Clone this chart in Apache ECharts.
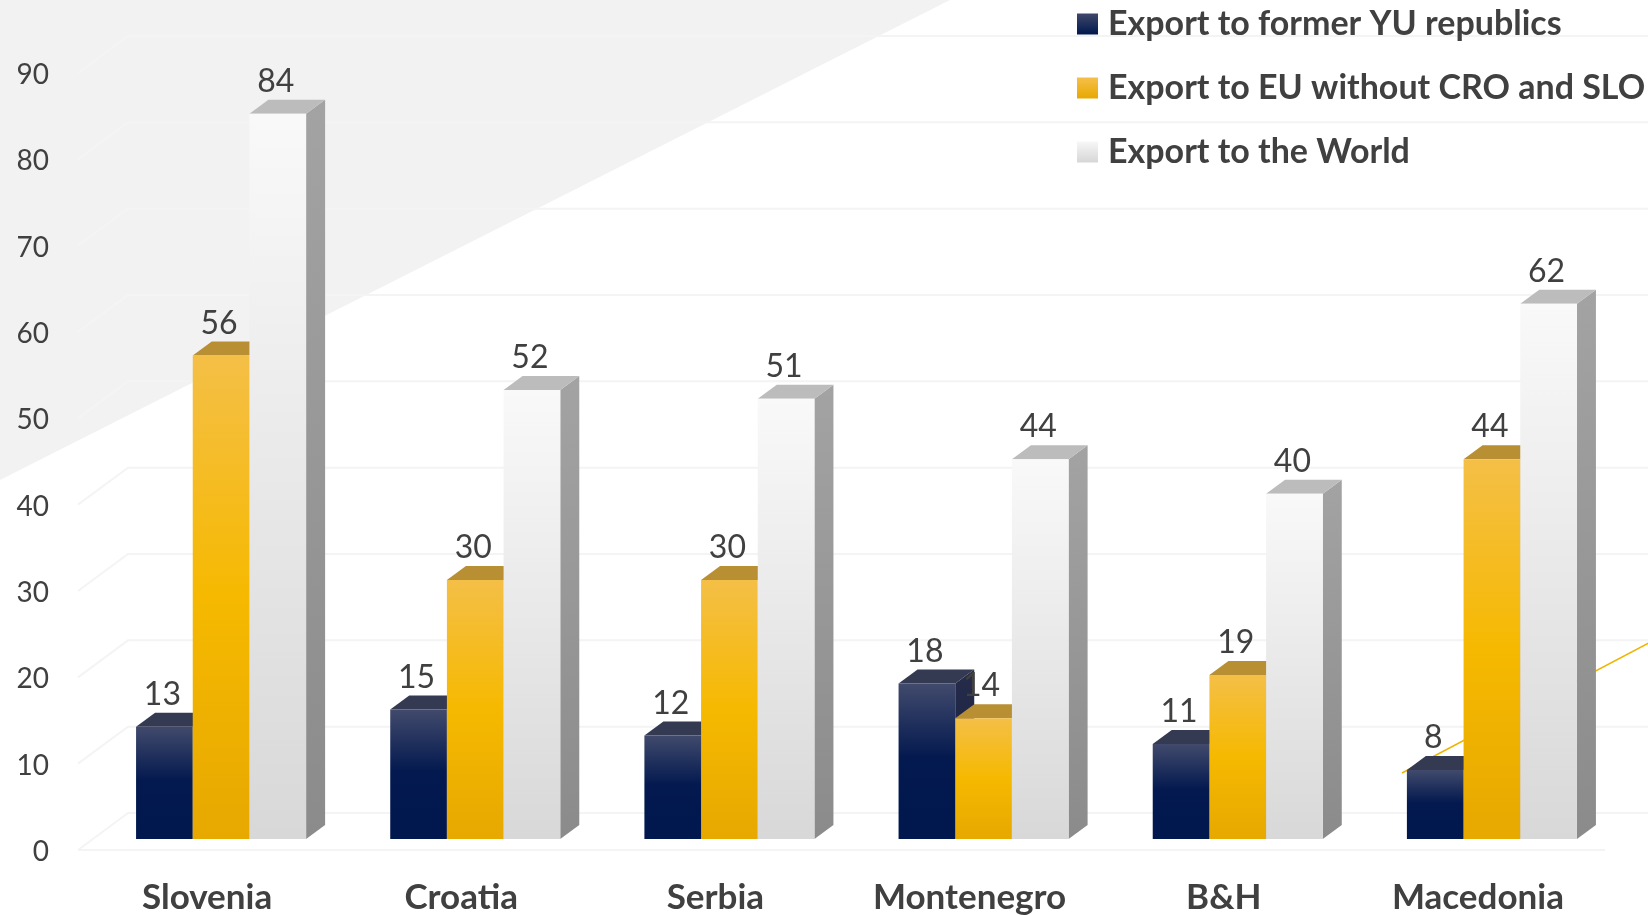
<!DOCTYPE html>
<html>
<head>
<meta charset="utf-8">
<script src="https://cdn.jsdelivr.net/npm/echarts@6/dist/echarts.min.js"></script>
<style>
  html, body { margin: 0; padding: 0; background: #fff; }
  #chart { width: 1648px; height: 915px; }
</style>
</head>
<body>
<div id="chart"></div>
<script>
// data
var categories = ["Slovenia", "Croatia", "Serbia", "Montenegro", "B&H", "Macedonia"];
var seriesNames = ["Export to former YU republics", "Export to EU without CRO and SLO", "Export to the World"];
var exportYU = [13, 15, 12, 18, 11, 8];
var exportEU = [56, 30, 30, 14, 19, 44];
var exportWorld = [84, 52, 51, 44, 40, 62];
var yTicks = [0, 10, 20, 30, 40, 50, 60, 70, 80, 90];

// fake 3d projection (px)
var SHIFT_X = 14, SHIFT_Y = -13;   // bars sit a bit behind the axis plane
var DEPTH_X = 19, DEPTH_Y = 14;    // bar depth
var WALL_X = 50, WALL_Y = 39;      // back wall
var BAR_RATIO = 0.223;

var FONT = "Lato";
var TEXT = "#404040";

function grad(stops) {
  return new echarts.graphic.LinearGradient(0, 0, 0, 1, stops.map(function (s) {
    return { offset: s[0], color: s[1] };
  }));
}

var styles = [
  {
    front: [[0, "#414a6c"], [0.48, "#03194f"], [1, "#00184e"]],
    top: "#343a52",
    side: [[0, "#262c4a"], [1, "#121a3c"]],
    legend: [[0, "#3f4869"], [1, "#00184e"]]
  },
  {
    front: [[0, "#f4bf47"], [0.5, "#f6b900"], [1, "#e7a800"]],
    top: "#b98f33",
    side: [[0, "#c99a20"], [1, "#b88a00"]],
    legend: [[0, "#f5c04a"], [1, "#e8a800"]]
  },
  {
    front: [[0, "#f9f9f9"], [1, "#d8d8d8"]],
    top: "#bcbcbc",
    side: [[0, "#a3a3a3"], [1, "#8b8b8b"]],
    legend: [[0, "#f7f7f7"], [1, "#d6d6d6"]]
  }
];

function makeBar(sIdx) {
  var st = styles[sIdx];
  return function (params, api) {
    var cat = api.value(0);
    var val = api.value(1);
    var top = api.coord([cat, val]);
    var base = api.coord([cat, 0]);
    var band = api.size([1, 0])[0];
    var w = band * BAR_RATIO;
    var x0 = top[0] + SHIFT_X - 1.5 * w + sIdx * w;
    var x1 = x0 + w;
    var yTop = top[1] + SHIFT_Y;
    var yBot = base[1] + SHIFT_Y;
    return {
      type: "group",
      children: [
        {
          type: "polygon",
          shape: { points: [[x1, yTop], [x1 + DEPTH_X, yTop - DEPTH_Y], [x1 + DEPTH_X, yBot - DEPTH_Y], [x1, yBot]] },
          style: { fill: grad(st.side) }
        },
        {
          type: "polygon",
          shape: { points: [[x0, yTop], [x0 + DEPTH_X, yTop - DEPTH_Y], [x1 + DEPTH_X, yTop - DEPTH_Y], [x1, yTop]] },
          style: { fill: st.top }
        },
        {
          type: "rect",
          shape: { x: x0, y: yTop, width: w, height: yBot - yTop },
          style: { fill: grad(st.front) }
        },
        {
          type: "text",
          z2: 100,
          style: {
            x: x0 + w / 2 - 2,
            y: yTop - DEPTH_Y - 18,
            text: String(val),
            align: "center",
            verticalAlign: "middle",
            fontFamily: FONT,
            fontSize: 32,
            fill: TEXT
          }
        }
      ]
    };
  };
}

function gridLines(params, api) {
  var v = api.value(1);
  var band = api.size([1, 0])[0];
  var p = api.coord([0, v]);
  var xl = p[0] - band / 2 - 2;
  var xr = api.coord([categories.length - 1, v])[0] + band / 2;
  var y = p[1] - 2;
  var lineStyle = { stroke: "#f4f4f4", lineWidth: 2, fill: null };
  var children = [{
    type: "polyline",
    shape: { points: [[xl, y], [xl + WALL_X, y - WALL_Y + 2], [xr + WALL_X + 60, y - WALL_Y + 2]] },
    style: lineStyle
  }];
  if (v === 0) {
    children.push({
      type: "line",
      shape: { x1: xl, y1: y, x2: xr, y2: y },
      style: lineStyle
    });
  }
  return { type: "group", children: children };
}

var chart = echarts.init(document.getElementById("chart"), null, { renderer: "canvas" });

var barData = [exportYU, exportEU, exportWorld];

var option = {
  animation: false,
  backgroundColor: "#ffffff",
  textStyle: { fontFamily: FONT },
  graphic: [
    {
      type: "polygon",
      z: -10,
      silent: true,
      shape: { points: [[0, 0], [950, 0], [0, 480]] },
      style: { fill: "#f2f2f2" }
    },
    {
      type: "line",
      z: -5,
      silent: true,
      shape: { x1: 1402, y1: 773, x2: 1660, y2: 637 },
      style: { stroke: "#f0b400", lineWidth: 1.5 }
    }
  ],
  legend: {
    orient: "vertical",
    left: 1072,
    top: -1,
    itemWidth: 21,
    itemHeight: 21,
    itemGap: 24,
    selectedMode: false,
    textStyle: {
      fontFamily: FONT,
      fontWeight: "bold",
      fontSize: 34,
      lineHeight: 40,
      color: TEXT,
      padding: [0, 0, 0, 5]
    },
    data: seriesNames.map(function (n, i) {
      return { name: n, icon: "rect", itemStyle: { color: grad(styles[i].legend) } };
    })
  },
  grid: { left: 80, right: 43, top: 75, bottom: 63, containLabel: false },
  xAxis: {
    type: "category",
    data: categories,
    axisLine: { show: false },
    axisTick: { show: false },
    splitLine: { show: false },
    axisLabel: {
      margin: 28,
      fontFamily: FONT,
      fontWeight: "bold",
      fontSize: 35,
      color: TEXT
    }
  },
  yAxis: {
    type: "value",
    min: 0,
    max: 90,
    interval: 10,
    axisLine: { show: false },
    axisTick: { show: false },
    splitLine: { show: false },
    axisLabel: {
      margin: 31,
      fontFamily: FONT,
      fontSize: 28,
      color: TEXT
    }
  },
  series: [
    {
      type: "custom",
      name: "grid",
      silent: true,
      clip: false,
      z: 1,
      renderItem: gridLines,
      data: yTicks.map(function (v) { return [0, v]; })
    }
  ].concat(barData.map(function (vals, s) {
    return {
      type: "custom",
      name: seriesNames[s],
      clip: false,
      z: 2,
      itemStyle: { color: grad(styles[s].legend) },
      renderItem: makeBar(s),
      encode: { x: 0, y: 1 },
      data: vals.map(function (v, i) { return [i, v]; })
    };
  }))
};

chart.setOption(option);
</script>
</body>
</html>
